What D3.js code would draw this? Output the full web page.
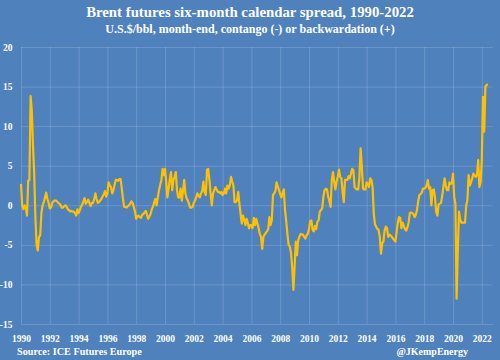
<!DOCTYPE html>
<html>
<head>
<meta charset="utf-8">
<script src="https://cdn.jsdelivr.net/npm/d3@7"></script>
<style>
  html, body { margin: 0; padding: 0; background: #4f81bd; }
  svg { display: block; }
  text { font-family: "Liberation Serif", "Times New Roman", serif; font-weight: bold; fill: #ffffff; }
</style>
</head>
<body>
<script>
// ---- Data (monthly Brent six-month calendar spread, US$/bbl) ----
const startYear = 1990;
const spread1990s = [
  2.7, 0.0, -0.5, 0.0, -0.3, -1.3, 3.1, 3.2, 13.8, 12.0, 7.5, 4.0,      // 1990
  -1.5, -5.0, -5.7, -4.0, -3.8, -1.0, 0.0, 0.4, 1.0, 1.6, 0.8, 0.3,     // 1991
  -0.4, -0.3, 0.3, 0.5, 0.6, 0.6, 0.5, 0.3, 0.2, 0.0, -0.3, -0.3,       // 1992
  -0.1, 0.0, -0.2, -0.5, -0.6, -0.8, -0.7, -0.8, -0.8, -1.0, -1.3, -0.5,// 1993
  -1.0, -0.6, -0.2, 0.1, 0.5, 0.9, 0.2, 0.4, 0.7, 0.3, -0.1, 0.3,       // 1994
  0.3, 0.8, 1.5, 0.8, 0.3, 0.4, 0.6, 0.8, 1.1, 1.4, 1.8, 1.1,           // 1995
  1.5, 2.9, 2.5, 2.3, 1.5, 1.9, 2.6, 3.2, 3.2, 3.1, 3.3, 3.3,           // 1996
  2.1, 0.8, -0.2, -0.2, -0.3, -0.1, 0.0, 0.2, 0.5, 0.3, -0.2, -0.8,     // 1997
  -1.7, -1.4, -1.3, -1.5, -1.6, -1.2, -1.1, -0.9, -0.7, -1.2, -1.7, -1.4,// 1998
  -1.1, -0.5, -0.2, 0.4, 0.8, 0.0, 1.0, 1.9, 2.6, 3.2, 4.6, 3.8         // 1999
];
const spread2000s = [
  4.6, 3.0, 1.0, 2.1, 3.3, 4.2, 1.9, 3.2, 3.6, 4.2, 1.9, 1.0,           // 2000
  1.0, 2.1, 0.6, 1.8, 3.2, 1.5, 0.9, 0.6, 0.2, -0.3, -0.3, -0.2,        // 2001
  0.3, 0.6, 1.0, 1.5, 1.2, 1.0, 1.5, 1.8, 3.0, 1.7, 1.3, 4.5,           // 2002
  4.6, 3.2, 1.5, 0.0, 1.5, 1.9, 2.3, 2.0, 1.7, 1.7, 1.5, 1.7,           // 2003
  1.3, 1.5, 2.1, 1.5, 2.5, 2.1, 2.5, 3.6, 3.0, 2.5, 0.4, 0.4,           // 2004
  0.6, 1.7, 0.2, -1.1, -2.3, -1.3, -1.8, -2.5, -1.7, -2.2, -2.9, -2.5,  // 2005
  -2.5, -2.9, -1.6, -2.5, -1.7, -2.3, -2.9, -3.6, -4.0, -5.5, -4.0, -3.7,// 2006
  -3.5, -3.3, -3.0, -1.5, -2.5, -1.9, 1.3, 1.5, 1.8, 2.9, 2.4, 1.9,     // 2007
  1.4, 1.0, 1.6, 2.0, -0.6, -2.0, -3.6, -5.0, -5.2, -6.0, -7.8, -10.7,  // 2008
  -7.8, -4.6, -6.3, -4.4, -4.0, -3.6, -3.7, -3.7, -4.0, -4.2, -3.8, -3.6 // 2009
];
const spread2010s = [
  -3.0, -2.0, -1.9, -3.1, -3.3, -2.6, -3.0, -2.1, -1.9, -0.8, -0.6, -0.4,// 2010
  1.1, 1.9, 2.1, 2.0, 1.1, 0.5, -0.2, 3.2, 4.2, 3.0, 2.0, 3.0,          // 2011
  3.6, 4.5, 3.6, 3.4, 1.7, 0.4, 3.2, 3.2, 3.2, 3.7, 3.4, 4.0,           // 2012
  4.6, 4.4, 2.3, 2.1, 2.0, 2.0, 3.5, 7.2, 5.0, 2.1, 2.0, 2.0,           // 2013
  2.9, 2.7, 2.3, 3.4, 3.2, 2.3, -1.1, -2.4, -2.7, -3.0, -3.1, -4.0,     // 2014
  -6.1, -4.8, -4.6, -3.2, -2.7, -2.9, -4.0, -3.7, -3.8, -4.0, -4.2, -4.4,// 2015
  -4.6, -3.4, -2.2, -1.5, -1.6, -2.9, -2.2, -2.6, -3.0, -3.2, -2.8, -2.2,// 2016
  -1.0, -0.9, -1.0, -1.1, -1.5, -1.2, -0.6, 0.5, 1.3, 1.4, 1.6, 2.1,    // 2017
  2.1, 2.2, 2.5, 3.2, 2.1, 2.3, 0.0, 1.9, 2.0, 1.0, -0.8, -1.3,         // 2018
  0.1, 0.2, 0.3, 1.2, 2.3, 3.4, 2.5, 1.9, 1.9, 2.9, 2.7, 2.8            // 2019
];
const spread2020s = [
  4.0, 1.1, 0.2, -11.8, -5.7, -0.8, -1.8, -2.2, -2.2, -2.2, -2.2, 0.0,  // 2020
  0.6, 3.8, 2.5, 2.9, 3.4, 4.0, 3.8, 3.6, 3.8, 5.7, 2.3, 2.9,           // 2021
  5.7, 13.7, 9.3, 15.0, 15.2, 15.3                                      // 2022
];
const yTicks = [20, 15, 10, 5, 0, -5, -10, -15];
const xTicks = [1990, 1992, 1994, 1996, 1998, 2000, 2002, 2004, 2006, 2008,
                2010, 2012, 2014, 2016, 2018, 2020, 2022];
const titleText = "Brent futures six-month calendar spread, 1990-2022";
const subtitleText = "U.S.$/bbl, month-end, contango (-) or backwardation (+)";
const sourceText = "Source: ICE Futures Europe";
const creditText = "@JKempEnergy";

// ---- Build series ----
const values = [].concat(spread1990s, spread2000s, spread2010s, spread2020s);
const series = values.map((v, i) => ({ t: startYear + i / 12, v }));

const W = 500, H = 360;
const svg = d3.select("body").append("svg").attr("width", W).attr("height", H);
svg.append("rect").attr("width", W).attr("height", H).attr("fill", "#4f81bd");

const x = d3.scaleLinear().domain([1990, 2022.75]).range([21, 492.6]);
const y = d3.scaleLinear().domain([-15, 20]).range([324, 47]);

// Horizontal gridlines + y labels (plain hyphen minus as in the original)
const yAxis = d3.axisLeft(y).tickValues(yTicks).tickSize(-(x.range()[1] - x.range()[0])).tickPadding(8.5)
  .tickFormat(d => String(d));
const gy = svg.append("g").attr("transform", `translate(${x.range()[0]},0)`).call(yAxis);
gy.select(".domain").remove();
gy.selectAll("line").attr("stroke", "#ffffff").attr("stroke-opacity", 0.16);
gy.selectAll("text").attr("font-size", 9.5).attr("fill", "#ffffff")
  .style("font-family", '"Liberation Serif", serif').style("font-weight", "bold");

// Vertical gridlines + x labels
const xAxis = d3.axisBottom(x).tickValues(xTicks).tickSize(-(y.range()[0] - y.range()[1])).tickPadding(11)
  .tickFormat(d => String(d));
const gx = svg.append("g").attr("transform", `translate(0,${y.range()[0]})`).call(xAxis);
gx.select(".domain").remove();
gx.selectAll("line").attr("stroke", "#ffffff").attr("stroke-opacity", 0.16);
gx.selectAll("text").attr("font-size", 9.5).attr("fill", "#ffffff")
  .style("font-family", '"Liberation Serif", serif').style("font-weight", "bold");

// Line
const line = d3.line().x(d => x(d.t)).y(d => y(d.v)).curve(d3.curveLinear);
svg.append("path").datum(series).attr("d", line)
  .attr("fill", "none").attr("stroke", "#ffc000").attr("stroke-width", 2.2)
  .attr("stroke-linejoin", "round");

// Titles
svg.append("text").attr("x", 250).attr("y", 17).attr("text-anchor", "middle")
  .attr("font-size", 14.8).text(titleText);
svg.append("text").attr("x", 250).attr("y", 32.5).attr("text-anchor", "middle")
  .attr("font-size", 12).text(subtitleText);

// Footer
svg.append("text").attr("x", 17).attr("y", 355).attr("font-size", 10.2).text(sourceText);
svg.append("text").attr("x", 468).attr("y", 355).attr("text-anchor", "end").attr("font-size", 10).text(creditText);
</script>
</body>
</html>
